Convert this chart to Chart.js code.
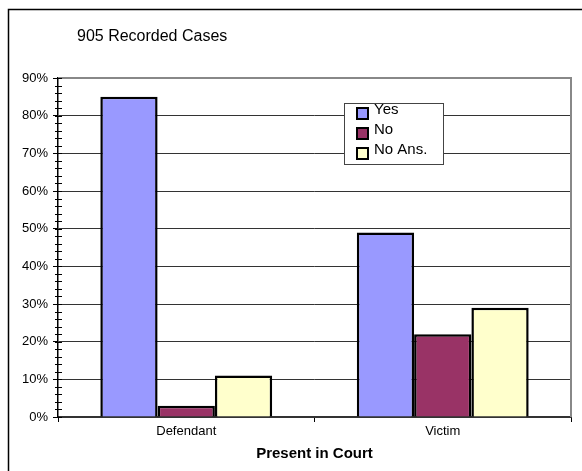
<!DOCTYPE html>
<html lang="en">
<head>
  <meta charset="UTF-8">
  <title>905 Recorded Cases</title>
  <script src="https://cdn.jsdelivr.net/npm/chart.js"></script>
  <style>
    body { margin: 0; background: #fff; }
  </style>
</head>
<body>
  <canvas id="courtChart" width="582" height="471"></canvas>

  <script>
    // data
    const categories = ['Defendant', 'Victim'];
    const seriesNames = ['Yes', 'No', 'No Ans.'];
    const yesValues = [85, 49];
    const noValues = [3, 22];
    const noAnsValues = [11, 29];
    const yTicks = [0, 10, 20, 30, 40, 50, 60, 70, 80, 90];

    const FONT = '"Liberation Sans", Arial, Helvetica, sans-serif';

    // frame, plot border, minor ticks, title and boxed legend
    const decor = {
      id: 'decor',
      beforeDraw(chart) {
        const ctx = chart.ctx;
        ctx.save();
        ctx.fillStyle = '#fff';
        ctx.fillRect(0, 0, chart.width, chart.height);
        ctx.strokeStyle = '#000';
        ctx.lineWidth = 1.5;
        ctx.beginPath();
        ctx.moveTo(8.5, chart.height);
        ctx.lineTo(8.5, 9.5);
        ctx.lineTo(chart.width, 9.5);
        ctx.stroke();
        ctx.restore();
      },
      afterDraw(chart) {
        const ctx = chart.ctx;
        const a = chart.chartArea;
        const y = chart.scales.y;
        ctx.save();

        // gray top / right border of the plot
        ctx.strokeStyle = '#888';
        ctx.lineWidth = 2;
        ctx.beginPath();
        ctx.moveTo(a.left, a.top);
        ctx.lineTo(a.right, a.top);
        ctx.lineTo(a.right, a.bottom);
        ctx.stroke();

        // minor ticks every 2%
        ctx.strokeStyle = '#000';
        ctx.lineWidth = 1;
        for (let v = y.min; v <= y.max; v += 2) {
          const py = Math.round(y.getPixelForValue(v)) + 0.5;
          ctx.beginPath();
          ctx.moveTo(a.left - 3, py);
          ctx.lineTo(a.left + 4, py);
          ctx.stroke();
        }

        // title
        ctx.fillStyle = '#000';
        ctx.font = '16px ' + FONT;
        ctx.textBaseline = 'middle';
        ctx.textAlign = 'left';
        ctx.fillText('905 Recorded Cases', a.left + 19, 37);

        // legend box
        const lx = a.left + 286, ly = a.top + 25;
        ctx.fillStyle = '#fff';
        ctx.fillRect(lx, ly, 99, 61);
        ctx.strokeStyle = '#444';
        ctx.lineWidth = 1;
        ctx.strokeRect(lx + 0.5, ly + 0.5, 99, 61);
        ctx.font = '15px ' + FONT;
        chart.data.datasets.forEach((ds, i) => {
          const by = ly + 5 + i * 20;
          ctx.fillStyle = ds.backgroundColor;
          ctx.fillRect(lx + 13, by, 11, 11);
          ctx.strokeStyle = '#000';
          ctx.lineWidth = 2;
          ctx.strokeRect(lx + 13, by, 11, 11);
          ctx.fillStyle = '#000';
          ctx.fillText(ds.label, lx + 30, by + 2);
        });
        ctx.restore();
      }
    };

    const ctx = document.getElementById('courtChart').getContext('2d');
    new Chart(ctx, {
      type: 'bar',
      data: {
        labels: categories,
        datasets: [
          { label: seriesNames[0], data: yesValues, backgroundColor: '#9999ff' },
          { label: seriesNames[1], data: noValues, backgroundColor: '#993366' },
          { label: seriesNames[2], data: noAnsValues, backgroundColor: '#ffffcc' }
        ].map(ds => Object.assign(ds, {
          borderColor: '#000',
          borderWidth: 2.5,
          categoryPercentage: 0.67,
          barPercentage: 1
        }))
      },
      options: {
        responsive: false,
        animation: false,
        layout: { padding: { left: 8, right: 11, top: 78, bottom: 0 } },
        plugins: {
          legend: { display: false },
          tooltip: { enabled: false }
        },
        scales: {
          x: {
            afterFit(scale) { scale.height = 54; },
            grid: { drawOnChartArea: false, tickLength: 5, color: '#000' },
            border: { color: '#333', width: 2 },
            ticks: { color: '#000', padding: 2, font: { family: FONT, size: 13 } },
            title: {
              display: true,
              text: 'Present in Court',
              color: '#000',
              padding: { top: 0, bottom: 8 },
              font: { family: FONT, size: 15, weight: 'bold' }
            }
          },
          y: {
            min: 0,
            max: 90,
            afterFit(scale) { scale.width = 50; },
            afterBuildTicks(scale) { scale.ticks = yTicks.map(v => ({ value: v })); },
            grid: { color: '#333', tickLength: 5, tickColor: '#000' },
            border: { color: '#000', width: 1.5 },
            ticks: {
              color: '#000',
              padding: 5,
              font: { family: FONT, size: 13 },
              callback: v => v + '%'
            }
          }
        }
      },
      plugins: [decor]
    });
  </script>
</body>
</html>
